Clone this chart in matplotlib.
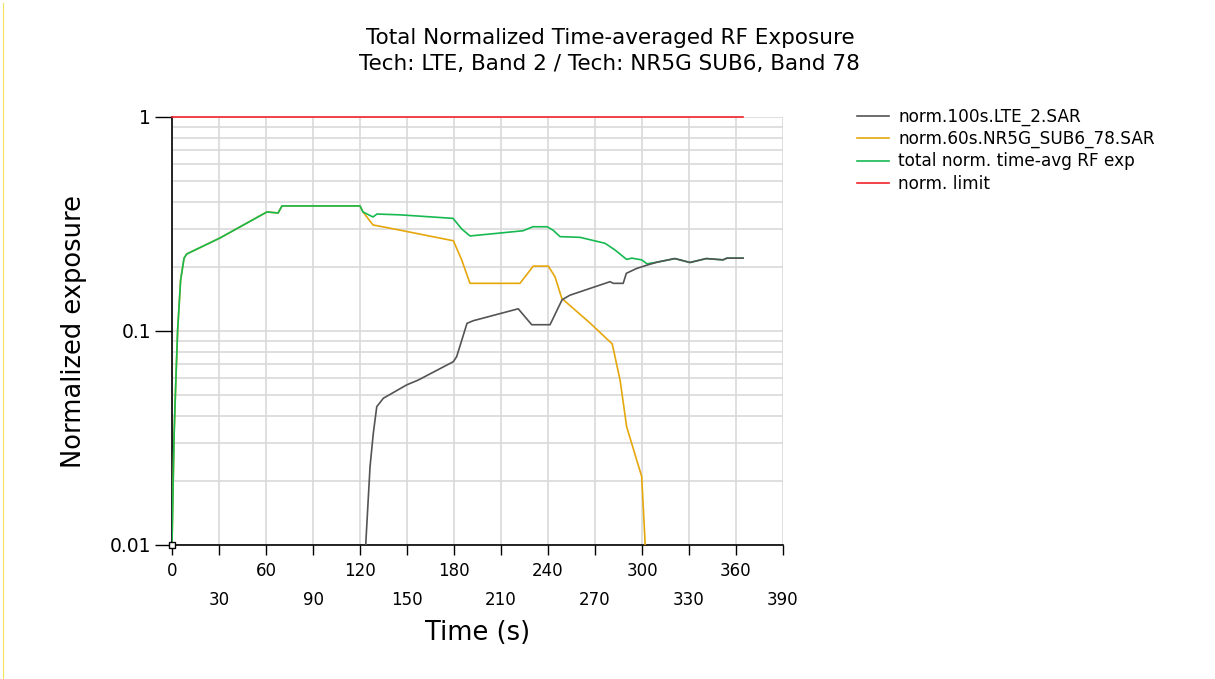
import matplotlib
matplotlib.use("Agg")
import matplotlib.pyplot as plt
from matplotlib.ticker import LogLocator, NullFormatter, FixedLocator
from matplotlib.lines import Line2D

# ---------------- data ----------------
t_lte = [122.5, 123.8, 126.4, 128.5, 130.7, 134.9, 149.8, 157.2, 179.6, 181.7, 188.3,
         192.3, 221.0, 229.6, 241.3, 249.0, 254.0, 279.6, 281.7, 288.0, 290.0, 296.6,
         304.0, 310.0, 321.0, 330.6, 341.0, 351.7, 354.2, 364.5]
lte = [0.005, 0.0105, 0.0232, 0.0333, 0.0443, 0.0485, 0.056, 0.059, 0.0719, 0.0759, 0.1086,
       0.1117, 0.127, 0.107, 0.107, 0.140, 0.147, 0.170, 0.167, 0.167, 0.186, 0.196,
       0.204, 0.210, 0.218, 0.209, 0.218, 0.215, 0.219, 0.219]

t_nr = [0.0, 1.3, 2.4, 3.6, 5.5, 7.7, 9.4, 30.6, 60.6, 67.7, 70.2, 120.0, 121.9, 128.3,
        145.5, 179.6, 184.9, 190.2, 222.1, 230.6, 240.2, 244.5, 248.8, 266.8, 281.0,
        286.0, 290.2, 299.8, 301.9, 303.0]
nr = [0.01, 0.032, 0.057, 0.101, 0.173, 0.219, 0.229, 0.272, 0.360, 0.356, 0.384, 0.384,
      0.360, 0.313, 0.296, 0.264, 0.215, 0.167, 0.167, 0.201, 0.201, 0.179, 0.142, 0.109,
      0.087, 0.059, 0.0357, 0.0209, 0.0105, 0.005]

t_tot = [0.0, 1.3, 2.4, 3.6, 5.5, 7.7, 9.4, 30.6, 60.6, 67.7, 70.2, 120.0, 121.9, 128.3,
         130.8, 145.5, 179.4, 184.9, 190.2, 207.4, 224.0, 230.4, 239.4, 243.2, 247.7,
         260.4, 276.4, 282.8, 290.2, 293.4, 299.8, 303.2, 310.0, 321.0, 330.6, 341.0,
         351.7, 354.2, 364.5]
tot = [0.01, 0.032, 0.057, 0.101, 0.173, 0.219, 0.229, 0.272, 0.360, 0.356, 0.384, 0.384,
       0.360, 0.341, 0.352, 0.349, 0.336, 0.300, 0.278, 0.286, 0.294, 0.307, 0.307, 0.296,
       0.276, 0.274, 0.257, 0.239, 0.216, 0.219, 0.215, 0.206, 0.210, 0.218, 0.209, 0.218,
       0.215, 0.219, 0.219]

t_lim = [0.0, 364.5]
lim = [1.0, 1.0]

labels = ["norm.100s.LTE_2.SAR", "norm.60s.NR5G_SUB6_78.SAR",
          "total norm. time-avg RF exp", "norm. limit"]
x_major = [0, 60, 120, 180, 240, 300, 360]
x_minor = [30, 90, 150, 210, 270, 330, 390]
y_ticks = [0.01, 0.1, 1]
y_ticklabels = ["0.01", "0.1", "1"]

# ---------------- style ----------------
plt.rcParams['font.family'] = ['DejaVu Sans']
c_gray = "#545454"
c_yel = "#e6a70c"
c_grn = "#17b951"
c_red = "#f2232a"
lw = 1.2

fig = plt.figure(figsize=(12.15, 6.79), dpi=100)
ax = fig.add_axes([172/1215, 1-545/679, (783-172)/1215, (545-117)/679])

ax.plot(t_nr, nr, color=c_yel, lw=lw, label=labels[1], zorder=3)
ax.plot(t_tot, tot, color=c_grn, lw=lw, label=labels[2], zorder=4)
ax.plot(t_lte, lte, color=c_gray, lw=lw, label=labels[0], zorder=5)
ax.plot(t_lim, lim, color=c_red, lw=lw, label=labels[3], zorder=6, clip_on=False)
ax.plot([t_tot[0]], [tot[0]], marker='s', ms=5, mfc='white', mec='black', mew=1,
        zorder=10, clip_on=False, linestyle='none')

ax.set_yscale('log')
ax.set_ylim(0.01, 1)
ax.set_xlim(0, 390)

ax.yaxis.set_major_locator(FixedLocator(y_ticks))
ax.set_yticklabels(y_ticklabels)
ax.yaxis.set_minor_locator(LogLocator(base=10, subs=range(2, 10)))
ax.yaxis.set_minor_formatter(NullFormatter())

ax.set_xticks(x_major)
ax.set_xticklabels([str(v) for v in x_major])
ax.set_xticks(x_minor, minor=True)
ax.set_xticklabels([str(v) for v in x_minor], minor=True)

ax.tick_params(axis='x', which='major', length=7, width=1, pad=5, labelsize=12)
ax.tick_params(axis='x', which='minor', length=7, width=1, pad=26, labelsize=12)
ax.tick_params(axis='y', which='major', length=12, width=1, pad=3, labelsize=13.5)
ax.tick_params(axis='y', which='minor', length=0)

ax.grid(True, which='both', axis='both', color='#d9d9d9', lw=1.2, zorder=0)
ax.set_axisbelow(True)
for s in ['top', 'right']:
    ax.spines[s].set_visible(False)
for s in ['left', 'bottom']:
    ax.spines[s].set_color('black')
    ax.spines[s].set_linewidth(1.2)

ax.set_xlabel("Time (s)", fontsize=18.5, labelpad=8)
ax.set_ylabel("Normalized exposure", fontsize=18.5, labelpad=16)

fig.text(0.502, 1-38/679, "Total Normalized Time-averaged RF Exposure", ha='center',
         va='center', fontsize=15.5)
fig.text(0.502, 1-64/679, "Tech: LTE, Band 2 / Tech: NR5G SUB6, Band 78", ha='center',
         va='center', fontsize=15.5)

# faint frame line at the left edge, as in the reference
fig.add_artist(Line2D([3/1215, 3/1215], [0.0, 1-3/679], transform=fig.transFigure,
                      color='#f3e45a', lw=0.8))

h, l = ax.get_legend_handles_labels()
hd = {lab: hh for hh, lab in zip(h, l)}
fig.legend([hd[x] for x in labels], labels, loc='upper left',
           bbox_to_anchor=(850/1215, 1-101/679), frameon=False, fontsize=12.2,
           handlelength=1.9, handletextpad=0.55, labelspacing=0.24, borderaxespad=0)

fig.savefig("out.png", dpi=100)
